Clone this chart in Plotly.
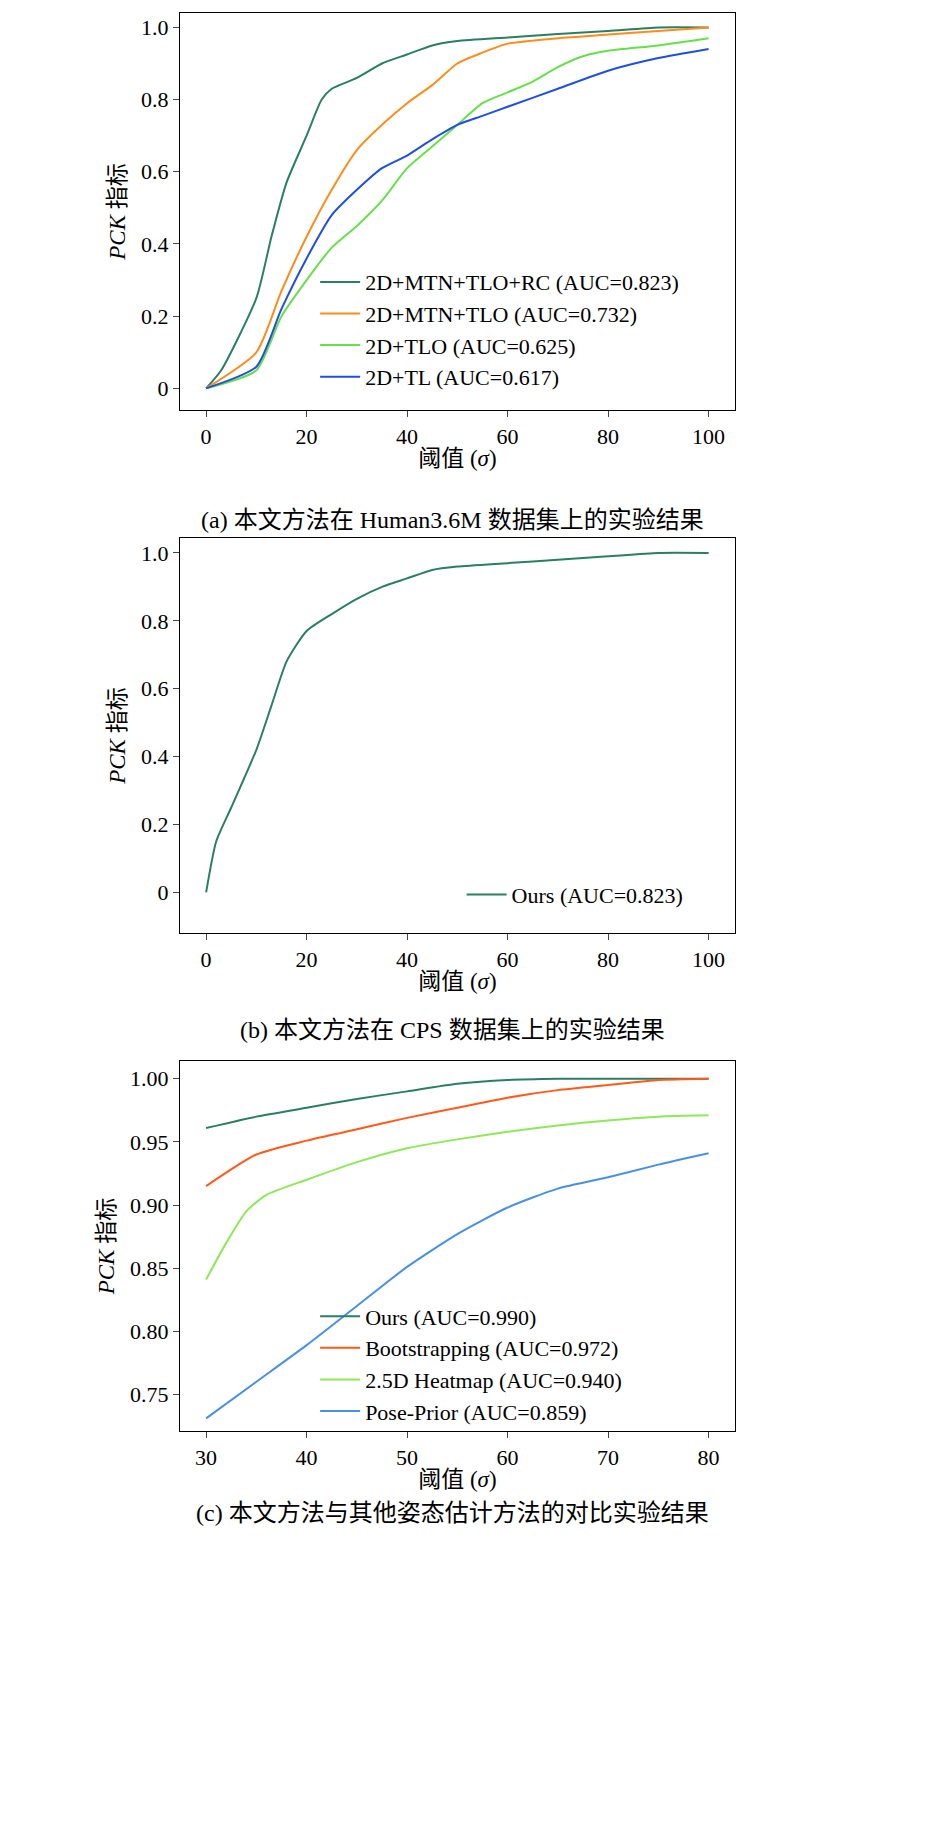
import plotly.graph_objects as go

# (a) Human3.6M
xa_rc = [0, 3, 10, 13, 16, 20, 23, 25, 30, 35, 40, 45, 50, 60, 70, 80, 90, 100]
ya_rc = [0, 0.05, 0.25, 0.42, 0.57, 0.70, 0.80, 0.83, 0.86, 0.90, 0.925, 0.95, 0.962, 0.972, 0.982, 0.99, 1.0, 1.0]
xa_tlo2 = [0, 10, 15, 20, 25, 30, 35, 40, 45, 50, 55, 60, 70, 80, 90, 100]
ya_tlo2 = [0, 0.10, 0.27, 0.42, 0.55, 0.66, 0.73, 0.79, 0.84, 0.90, 0.93, 0.955, 0.97, 0.98, 0.99, 1.0]
xa_tlo = [0, 10, 15, 20, 25, 30, 35, 40, 45, 50, 55, 60, 65, 70, 75, 80, 90, 100]
ya_tlo = [0, 0.05, 0.20, 0.30, 0.39, 0.45, 0.52, 0.61, 0.67, 0.73, 0.79, 0.82, 0.85, 0.89, 0.92, 0.935, 0.95, 0.97]
xa_tl = [0, 10, 15, 20, 25, 30, 35, 40, 45, 50, 55, 60, 70, 80, 90, 100]
ya_tl = [0, 0.06, 0.22, 0.36, 0.48, 0.55, 0.61, 0.645, 0.69, 0.73, 0.755, 0.78, 0.83, 0.88, 0.915, 0.94]

# (b) CPS
xb = [0, 2, 5, 10, 13, 16, 20, 25, 30, 35, 40, 45, 50, 60, 70, 80, 90, 100]
yb = [0, 0.15, 0.25, 0.42, 0.55, 0.68, 0.77, 0.82, 0.865, 0.90, 0.925, 0.95, 0.96, 0.97, 0.98, 0.99, 1.0, 1.0]

# (c) comparison
xc = [30, 35, 40, 45, 50, 55, 60, 65, 70, 75, 80]
yc_ours = [0.961, 0.970, 0.977, 0.984, 0.990, 0.996, 0.999, 1.0, 1.0, 1.0, 1.0]
yc_boot = [0.915, 0.940, 0.951, 0.960, 0.969, 0.977, 0.985, 0.991, 0.995, 0.999, 1.0]
xc_heat = [30, 32, 34, 36, 40, 45, 50, 55, 60, 65, 70, 75, 80]
yc_heat = [0.841, 0.870, 0.895, 0.908, 0.920, 0.934, 0.945, 0.952, 0.958, 0.963, 0.967, 0.970, 0.971]
yc_pose = [0.731, 0.760, 0.789, 0.820, 0.851, 0.877, 0.898, 0.913, 0.922, 0.932, 0.941]

FONT = "Liberation Serif, Noto Sans CJK SC"
fig = go.Figure()

def line(x, y, name, color, xa, ya, lg):
    fig.add_trace(go.Scatter(x=x, y=y, name=name, mode="lines", xaxis=xa, yaxis=ya, legend=lg,
                             line=dict(color=color, width=2, shape="spline", smoothing=0.6)))

line(xa_rc, ya_rc, "2D+MTN+TLO+RC (AUC=0.823)", "#2a7f62", "x", "y", "legend")
line(xa_tlo2, ya_tlo2, "2D+MTN+TLO (AUC=0.732)", "#ff8c1a", "x", "y", "legend")
line(xa_tlo, ya_tlo, "2D+TLO (AUC=0.625)", "#66e04a", "x", "y", "legend")
line(xa_tl, ya_tl, "2D+TL (AUC=0.617)", "#1f4fe0", "x", "y", "legend")
line(xb, yb, "Ours (AUC=0.823)", "#2a7f62", "x2", "y2", "legend2")
line(xc, yc_ours, "Ours (AUC=0.990)", "#2a7f62", "x3", "y3", "legend3")
line(xc, yc_boot, "Bootstrapping (AUC=0.972)", "#ff5a1a", "x3", "y3", "legend3")
line(xc_heat, yc_heat, "2.5D Heatmap (AUC=0.940)", "#8ee85a", "x3", "y3", "legend3")
line(xc, yc_pose, "Pose-Prior (AUC=0.859)", "#4a90e2", "x3", "y3", "legend3")

ax = dict(showline=True, linecolor="black", linewidth=1.2, mirror=True, ticks="outside",
          ticklen=6, showgrid=False, zeroline=False, tickfont=dict(size=22))
xt = dict(text="阈值 (<i>σ</i>)", font=dict(size=23), standoff=2)
yt = dict(text="<i>PCK</i> 指标", font=dict(size=23), standoff=8)
dx = [0.182, 0.769]
yv = [0, 0.2, 0.4, 0.6, 0.8, 1.0]
ytxt = ["0", "0.2", "0.4", "0.6", "0.8", "1.0"]
leg = dict(xanchor="left", yanchor="top", bgcolor="rgba(0,0,0,0)", font=dict(size=22),
           tracegroupgap=0, itemwidth=40)

fig.update_layout(
    width=945, height=1834, margin=dict(l=0, r=0, t=0, b=0),
    paper_bgcolor="white", plot_bgcolor="white", font=dict(family=FONT, color="black"),
    xaxis=dict(ax, domain=dx, range=[-5.2, 105.2], tickvals=[0, 20, 40, 60, 80, 100], title=xt, anchor="y"),
    yaxis=dict(ax, domain=[0.7808, 0.9973], range=[-0.06, 1.04], tickvals=yv, ticktext=ytxt, title=yt, anchor="x"),
    xaxis2=dict(ax, domain=dx, range=[-5.2, 105.2], tickvals=[0, 20, 40, 60, 80, 100], title=xt, anchor="y2"),
    yaxis2=dict(ax, domain=[0.4956, 0.7110], range=[-0.12, 1.044], tickvals=yv, ticktext=ytxt, title=yt, anchor="x2"),
    xaxis3=dict(ax, domain=dx, range=[27.4, 82.6], tickvals=[30, 40, 50, 60, 70, 80], title=xt, anchor="y3"),
    yaxis3=dict(ax, domain=[0.2241, 0.4258], range=[0.721, 1.014],
                tickvals=[0.75, 0.80, 0.85, 0.90, 0.95, 1.00], tickformat=".2f", title=yt, anchor="x3"),
    legend=dict(leg, x=0.325, y=0.862),
    legend2=dict(leg, x=0.48, y=0.528),
    legend3=dict(leg, x=0.325, y=0.298),
)

captions = [("(a) 本文方法在 Human3.6M 数据集上的实验结果", 497),
            ("(b) 本文方法在 CPS 数据集上的实验结果", 1022),
            ("(c) 本文方法与其他姿态估计方法的对比实验结果", 1520)]
for txt, ypx in captions:
    fig.add_annotation(text=txt, x=0.47, y=1 - ypx / 1834, xref="paper", yref="paper",
                       showarrow=False, font=dict(size=24))

fig.write_html("out.html")
